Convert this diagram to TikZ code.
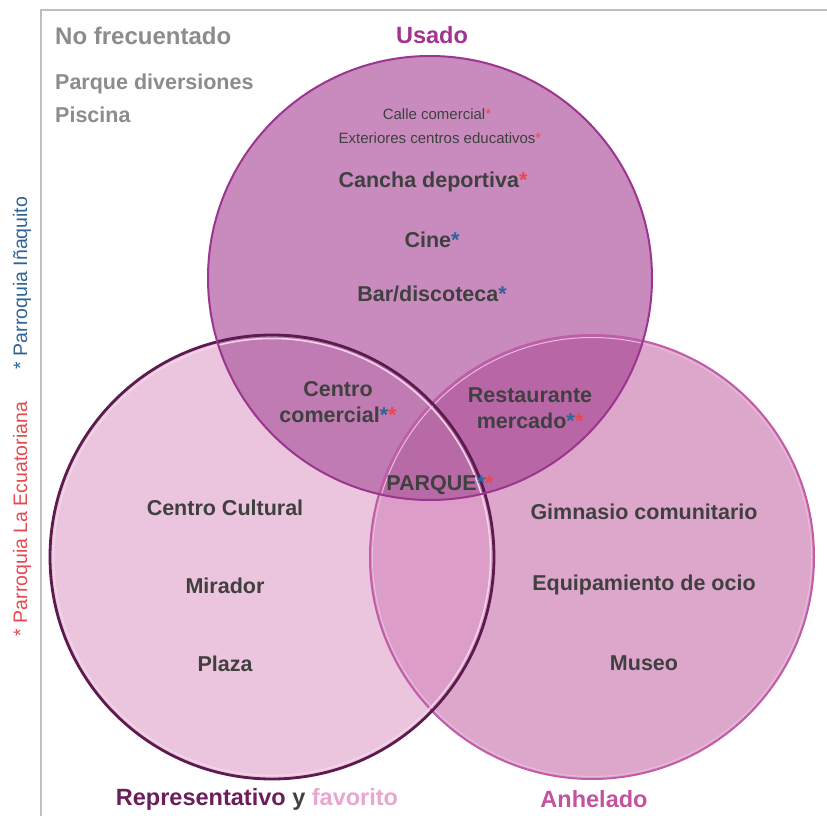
\documentclass[tikz,border=0pt]{standalone}
\usepackage{fontspec}
\setmainfont{Liberation Sans}
\definecolor{txt}{HTML}{404040}
\definecolor{grayt}{HTML}{8C8C8C}
\definecolor{frame}{HTML}{BFBFBF}
\definecolor{topF}{HTML}{C98BBE}
\definecolor{leftF}{HTML}{EBC4DE}
\definecolor{rightF}{HTML}{DDA6CB}
\definecolor{tlF}{HTML}{BF7BB2}
\definecolor{trF}{HTML}{B866A6}
\definecolor{lrF}{HTML}{DC9DC8}
\definecolor{allF}{HTML}{B86AA6}
\definecolor{topS}{HTML}{9B3590}
\definecolor{leftS}{HTML}{5C1A4F}
\definecolor{rightS}{HTML}{C25BA8}
\definecolor{usadoC}{HTML}{A2338E}
\definecolor{repC}{HTML}{6B1F5A}
\definecolor{favC}{HTML}{E8A6D0}
\definecolor{anhC}{HTML}{C5529F}
\definecolor{redA}{HTML}{E8474F}
\definecolor{blueA}{HTML}{2E6496}
\newcommand{\ra}{\textcolor{redA}{*}}
\newcommand{\ba}{\textcolor{blueA}{*}}
\begin{document}
\begin{tikzpicture}[x=1pt,y=-1pt,
  lbl/.style={font=\fontsize{21.5}{25}\selectfont\bfseries, text=txt, inner sep=0pt, align=center},
  small/.style={font=\fontsize{15}{17}\selectfont, text=txt, inner sep=0pt},
  head/.style={font=\fontsize{23.5}{27}\selectfont\bfseries, inner sep=0pt},
  grayl/.style={font=\fontsize{21.5}{25}\selectfont\bfseries, text=grayt, inner sep=0pt, anchor=west},
  side/.style={font=\fontsize{19.5}{22}\selectfont, inner sep=0pt, rotate=90}]
\useasboundingbox (0,0) rectangle (827,816);
\fill[white] (0,0) rectangle (827,816);
% frame
\draw[frame, line width=1.5pt] (41,816) -- (41,10) -- (827,10);
% circle coordinates
\coordinate (T) at (430,278);
\coordinate (L) at (272,557);
\coordinate (R) at (592,557);
\def\rr{222}
% fills
\fill[topF] (T) circle (\rr);
\fill[leftF] (L) circle (\rr);
\fill[rightF] (R) circle (\rr);
\begin{scope}\clip (T) circle (\rr); \fill[tlF] (L) circle (\rr); \end{scope}
\begin{scope}\clip (T) circle (\rr); \fill[trF] (R) circle (\rr); \end{scope}
\begin{scope}\clip (L) circle (\rr); \fill[lrF] (R) circle (\rr); \end{scope}
\begin{scope}\clip (T) circle (\rr); \clip (L) circle (\rr); \fill[allF] (R) circle (\rr); \end{scope}
% borders
\draw[rightS!40!white, line width=1pt] (R) circle (\rr-2.5);
\draw[rightS, line width=2pt] (R) circle (\rr);
\draw[leftF!70!white, line width=1.5pt] (L) circle (\rr-3.5);
\draw[leftS, line width=2.8pt] (L) circle (\rr);
\draw[topS, line width=2pt] (T) circle (\rr);
% top-left texts
\node[grayl, font=\fontsize{24}{28}\selectfont\bfseries] (nf) at (55,36) {No frecuentado};
\node[grayl] (pd) at (55,84) {Parque diversiones};
\node[grayl] (pi) at (55,115) {Piscina};
% headers
\node[head, text=usadoC] (us) at (432,35) {Usado};
\node[head, text=repC] (rep) at (257,799) {Representativo \textcolor{txt}{y} \textcolor{favC}{favorito}};
\node[head, text=anhC] (anh) at (594,799) {Anhelado};
% side labels
\node[side, text=redA] (pe) at (22,519) {* Parroquia La Ecuatoriana};
\node[side, text=blueA] (pin) at (22,283) {* Parroquia Iñaquito};
% Usado
\node[small] (cc) at (437,114) {Calle comercial\ra};
\node[small] (ex) at (440,138) {Exteriores centros educativos\ra};
\node[lbl] (ca) at (433,182) {Cancha deportiva\ra};
\node[lbl] (ci) at (432,240) {Cine\ba};
\node[lbl] (bd) at (432,294) {Bar/discoteca\ba};
% intersections
\node[lbl] (cm) at (338,402) {Centro\\[1pt]comercial\ba\ra};
\node[lbl] (rm) at (530,408) {Restaurante\\[1pt]mercado\ba\ra};
\node[lbl] (pq) at (440,485) {PARQUE\ba\ra};
% left
\node[lbl] (cu) at (225,508) {Centro Cultural};
\node[lbl] (mi) at (225,586) {Mirador};
\node[lbl] (pl) at (225,664) {Plaza};
% right
\node[lbl] (gc) at (644,512) {Gimnasio comunitario};
\node[lbl] (eo) at (644,585) {Equipamiento de ocio};
\node[lbl] (mu) at (644,663) {Museo};
\end{tikzpicture}
\end{document}
